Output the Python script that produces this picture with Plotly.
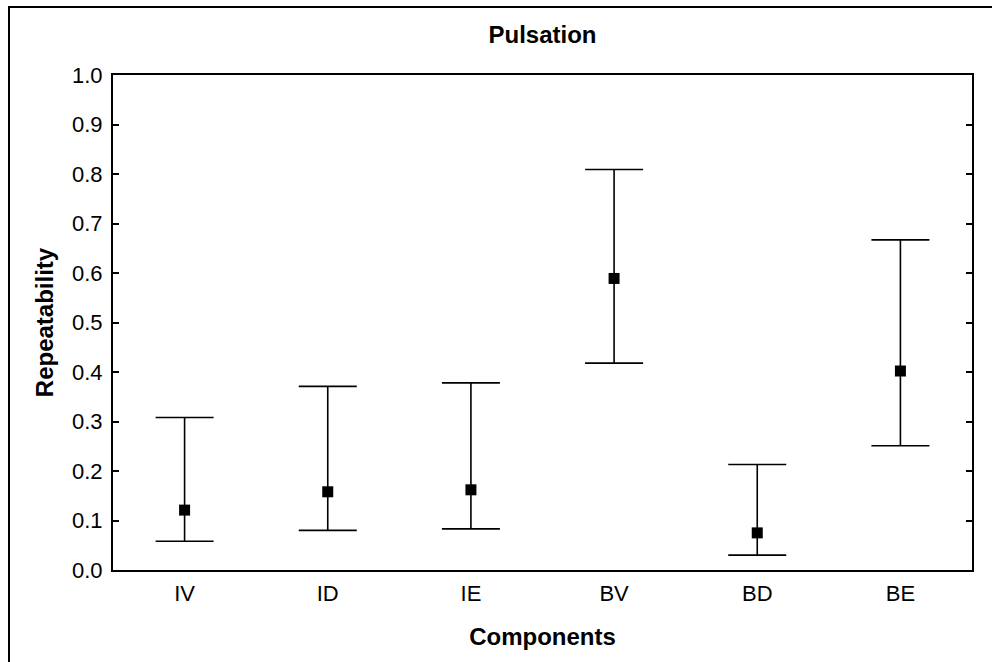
import plotly.graph_objects as go

categories = ["IV", "ID", "IE", "BV", "BD", "BE"]
estimate = [0.121, 0.158, 0.162, 0.589, 0.075, 0.402]
upper = [0.308, 0.371, 0.378, 0.809, 0.213, 0.667]
lower = [0.058, 0.080, 0.083, 0.418, 0.030, 0.251]
y_ticks = [0.0, 0.1, 0.2, 0.3, 0.4, 0.5, 0.6, 0.7, 0.8, 0.9, 1.0]

err_plus = [u - e for u, e in zip(upper, estimate)]
err_minus = [e - l for e, l in zip(estimate, lower)]

FONT = "Liberation Sans, Arial, sans-serif"

fig = go.Figure()
fig.add_trace(go.Scatter(
    x=categories, y=estimate, mode="markers",
    marker=dict(symbol="square", size=11, color="black"),
    error_y=dict(type="data", symmetric=False, array=err_plus, arrayminus=err_minus,
                 color="black", thickness=1.6, width=29),
    showlegend=False,
))

W, H = 992, 662
L, R, T, B = 113, 20, 75, 92
pw, ph = W - L - R, H - T - B

def px_x(p):
    return (p - L) / pw

def px_y(p):
    return (H - B - p) / ph

fig.update_layout(
    width=W, height=H,
    margin=dict(l=L, r=R, t=T, b=B),
    paper_bgcolor="white", plot_bgcolor="white",
    font=dict(family=FONT, color="black", size=22),
    title=dict(text="<b>Pulsation</b>", x=0.5, xref="paper", xanchor="center",
               y=1 - 35 / H, yref="container", yanchor="middle",
               font=dict(size=24, family=FONT, color="black")),
    xaxis=dict(type="category", range=[-0.5, 5.5], showline=True, linecolor="black",
               linewidth=2, mirror=True, ticks="", showgrid=False, zeroline=False,
               tickfont=dict(size=22), ticklabelstandoff=3,
               title=dict(text="<b>Components</b>", font=dict(size=24), standoff=23)),
    yaxis=dict(range=[0, 1], tickvals=y_ticks, tickformat=".1f", showline=True,
               linecolor="black", linewidth=2, mirror="ticks", ticks="inside",
               ticklen=6, tickwidth=1.5, tickcolor="black", showgrid=False,
               zeroline=False, tickfont=dict(size=22), ticklabelstandoff=4,
               title=dict(text="<b>Repeatability</b>", font=dict(size=24), standoff=12)),
    shapes=[dict(type="rect", xref="paper", yref="paper",
                 x0=px_x(9), x1=px_x(1010), y0=px_y(680), y1=px_y(7),
                 line=dict(color="black", width=2), fillcolor="rgba(0,0,0,0)",
                 layer="below")],
)

fig.write_html("out.html", config={"displayModeBar": False},
               post_script="document.body.style.margin='0';")
